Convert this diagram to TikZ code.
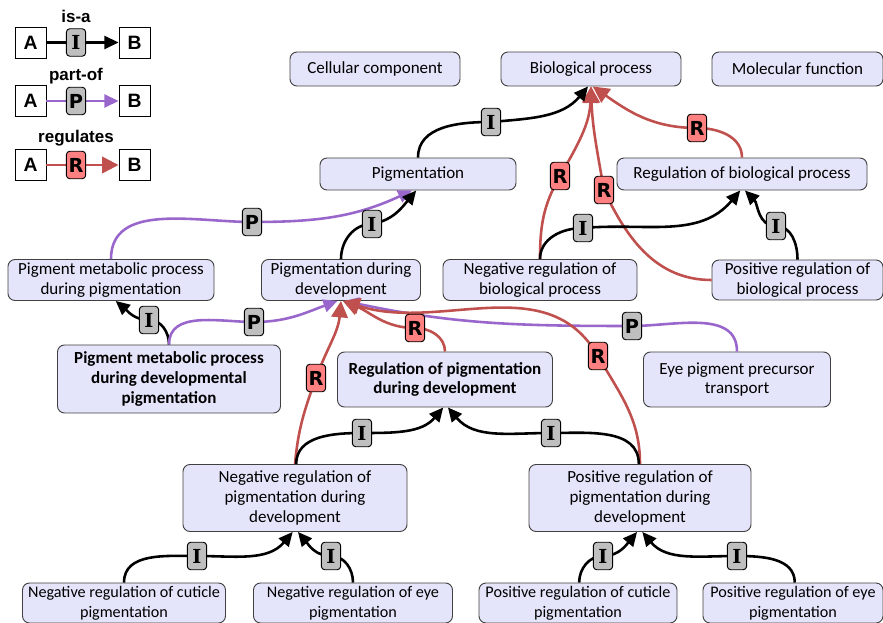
\documentclass[tikz,border=0pt]{standalone}
\usepackage{fontspec}
\setmainfont{Carlito}
\newfontfamily\legendfont{Liberation Sans}
\newfontfamily\badgefont{DejaVu Sans}
\newfontfamily\badgeserif{DejaVu Serif}
\usepackage{tikz}
\usetikzlibrary{arrows.meta}

\definecolor{boxfill}{RGB}{228,228,250}
\definecolor{regred}{RGB}{192,80,77}
\definecolor{regfill}{RGB}{255,128,128}
\definecolor{partpurple}{RGB}{153,102,204}
\definecolor{badgegray}{RGB}{191,191,191}

\begin{document}
\begin{tikzpicture}[x=0.03cm, y=0.03cm,
    term/.style 2 args={draw=black!75, fill=boxfill, rounded corners=6pt, line width=0.8pt,
        align=center, inner sep=1pt, minimum width=#1*0.03cm, minimum height=#2*0.03cm,
        font=\fontsize{14.5}{17}\selectfont},
    termb/.style 2 args={term={#1}{#2}, font=\fontsize{14.5}{17}\selectfont\bfseries},
    terms/.style 2 args={term={#1}{#2}, font=\fontsize{13.8}{17}\selectfont},
    badge/.style={draw=black, fill=badgegray, rounded corners=3pt, line width=0.8pt,
        minimum width=16.5pt, minimum height=23.5pt, inner sep=0pt,
        font=\badgefont\bfseries\fontsize{16.5}{16.5}\selectfont},
    isa/.style={badge, font=\badgeserif\bfseries\fontsize{16.5}{16.5}\selectfont},
    partof/.style={badge},
    reg/.style={badge, fill=regfill},
    isline/.style={line width=2.2pt, -{Triangle[length=12pt,width=11pt]}},
    partline/.style={line width=2.2pt, draw=partpurple, -{Triangle[length=12pt,width=11pt]}},
    regline/.style={line width=2.2pt, draw=regred, -{Triangle[length=14pt,width=14pt]}},
    legbox/.style={draw, fill=white, line width=0.8pt, minimum size=0.93cm, inner sep=0pt,
        font=\legendfont\bfseries\fontsize{16.5}{16.5}\selectfont},
    legtext/.style={font=\legendfont\bfseries\fontsize{14.5}{14.5}\selectfont}]

    \useasboundingbox (0,0) rectangle (883,-623);

    % legenda
    \node[legtext] (t1) at (76,-16) {is-a};
    \node[legbox] (a1) at (30.5,-42.5) {A};
    \node[legbox] (b1) at (134.5,-42.5) {B};
    \node[legtext] (t2) at (76,-76) {part-of};
    \node[legbox] (a2) at (30.5,-101) {A};
    \node[legbox] (b2) at (134.5,-101) {B};
    \node[legtext] (t3) at (76,-138) {regulates};
    \node[legbox] (a3) at (30.5,-165) {A};
    \node[legbox] (b3) at (134.5,-165) {B};
    \draw[isline] (a1) -- node[isa, pos=0.41] (l1) {I} (b1);
    \draw[partline] (a2) -- node[partof, pos=0.41] (l2) {P} (b2);
    \draw[regline] (a3) -- node[reg, pos=0.41] (l3) {R} (b3);

    % termini
    \node[term={170}{34}] (cc) at (375,-69) {Cellular component};
    \node[term={180}{34}] (bp) at (591,-69) {Biological process};
    \node[term={171}{34}] (mf) at (797.5,-69) {Molecular function};
    \node[term={196}{32}] (pig) at (418,-174) {Pigmentation};
    \node[term={250}{32}] (rbp) at (742,-174) {Regulation of biological process};
    \node[term={206}{41}] (pmp) at (111,-280) {Pigment metabolic process\\during pigmentation};
    \node[term={159}{41}] (pdd) at (341,-280) {Pigmentation during\\development};
    \node[term={194}{41}] (nrbp) at (540,-280) {Negative regulation of\\biological process};
    \node[term={171}{40}] (prbp) at (797.5,-280) {Positive regulation of\\biological process};
    \node[termb={223}{68}] (pmpd) at (169,-379) {Pigment metabolic process\\during developmental\\pigmentation};
    \node[termb={215}{55}] (rpdd) at (445,-379.5) {Regulation of pigmentation\\during development};
    \node[term={187}{55}] (eye) at (737,-379.5) {Eye pigment precursor\\transport};
    \node[term={224}{67}] (nrpdd) at (295,-498) {Negative regulation of\\pigmentation during\\development};
    \node[term={222}{67}] (prpdd) at (640,-498) {Positive regulation of\\pigmentation during\\development};
    \node[terms={203}{40}] (nrc) at (124,-603) {Negative regulation of cuticle\\pigmentation};
    \node[terms={199}{40}] (nre) at (353,-603) {Negative regulation of eye\\pigmentation};
    \node[terms={198}{40}] (prc) at (578,-603) {Positive regulation of cuticle\\pigmentation};
    \node[terms={180}{40}] (pre) at (793,-603) {Positive regulation of eye\\pigmentation};

    % archi verso Biological process
    \draw[regline] (nrbp.north) to[out=90,in=-120] (560,-176) node[reg] (r1) {R}
        to[out=60,in=-92] (bp.south);
    \draw[regline] (prbp.west) to[out=180,in=-65] (604,-190) node[reg] (r2) {R}
        to[out=100,in=-88] (bp.south);
    \draw[regline] (rbp.north) to[out=90,in=0] (697,-128) node[reg] (r3) {R}
        to[out=180,in=-35] ([xshift=1.5pt]bp.south);
    \draw[isline] (pig.north) to[out=90,in=180] (491,-122) node[isa] (i1) {I}
        to[out=5,in=-130] ([xshift=-2.5pt]bp.south);

    % Regulation of biological process
    \draw[isline] (nrbp.north) to[out=90,in=180] (583,-228) node[isa] (i2) {I}
        to[out=5,in=-130] ([xshift=-1.5pt]rbp.south);
    \draw[isline] (prbp.north) to[out=90,in=0] (776,-226) node[isa] (i3) {I}
        to[out=180,in=-45] ([xshift=2.5pt]rbp.south);

    % Pigmentation
    \draw[partline] (pmp.north) to[out=90,in=180] (252,-222) node[partof] (p1) {P}
        to[out=0,in=-155] ([xshift=-5pt]pig.south);
    \draw[isline] (pdd.north) to[out=90,in=180] (372,-224) node[isa] (i4) {I}
        to[out=10,in=-130] ([xshift=-1.5pt]pig.south);

    % Pigment metabolic process during pigmentation
    \draw[isline] (pmpd.north) to[out=90,in=0] (149,-320) node[isa] (i5) {I}
        to[out=180,in=-40] ([xshift=4pt]pmp.south);

    % Pigmentation during development
    \draw[partline] (pmpd.north) to[out=90,in=180] (254,-322) node[partof] (p2) {P}
        to[out=0,in=-160] ([xshift=-3pt]pdd.south);
    \draw[partline] (eye.north) to[out=90,in=0] (632,-326) node[partof] (p3) {P}
        to[out=180,in=-12] ([xshift=3pt]pdd.south);
    \draw[regline] (prpdd.north) to[out=90,in=-60] (598,-356) node[reg] (r4) {R}
        to[out=120,in=-18] ([xshift=2pt]pdd.south);
    \draw[regline] (rpdd.north) to[out=90,in=0] (415,-328) node[reg] (r5) {R}
        to[out=180,in=-22] ([xshift=1.5pt]pdd.south);
    \draw[regline] (nrpdd.north) to[out=85,in=-110] (316,-378) node[reg] (r6) {R}
        to[out=70,in=-95] (pdd.south);

    % Regulation of pigmentation during development
    \draw[isline] ([xshift=1pt]nrpdd.north) to[out=90,in=180] (362,-433) node[isa] (i6) {I}
        to[out=0,in=-130] ([xshift=-1.5pt]rpdd.south);
    \draw[isline] ([xshift=-1pt]prpdd.north) to[out=90,in=0] (551,-433) node[isa] (i7) {I}
        to[out=180,in=-50] ([xshift=2.5pt]rpdd.south);

    % livello inferiore
    \draw[isline] (nrc.north) to[out=90,in=180] (197,-556) node[isa] (i8) {I}
        to[out=0,in=-130] ([xshift=-2pt]nrpdd.south);
    \draw[isline] (nre.north) to[out=90,in=0] (331,-556) node[isa] (i9) {I}
        to[out=180,in=-50] ([xshift=2.5pt]nrpdd.south);
    \draw[isline] ([xshift=1pt]prc.north) to[out=90,in=180] (603,-556) node[isa] (i10) {I}
        to[out=0,in=-130] ([xshift=-2.5pt]prpdd.south);
    \draw[isline] ([xshift=1.5pt]pre.north) to[out=90,in=0] (737,-556) node[isa] (i11) {I}
        to[out=180,in=-50] ([xshift=2pt]prpdd.south);

\end{tikzpicture}
\end{document}
